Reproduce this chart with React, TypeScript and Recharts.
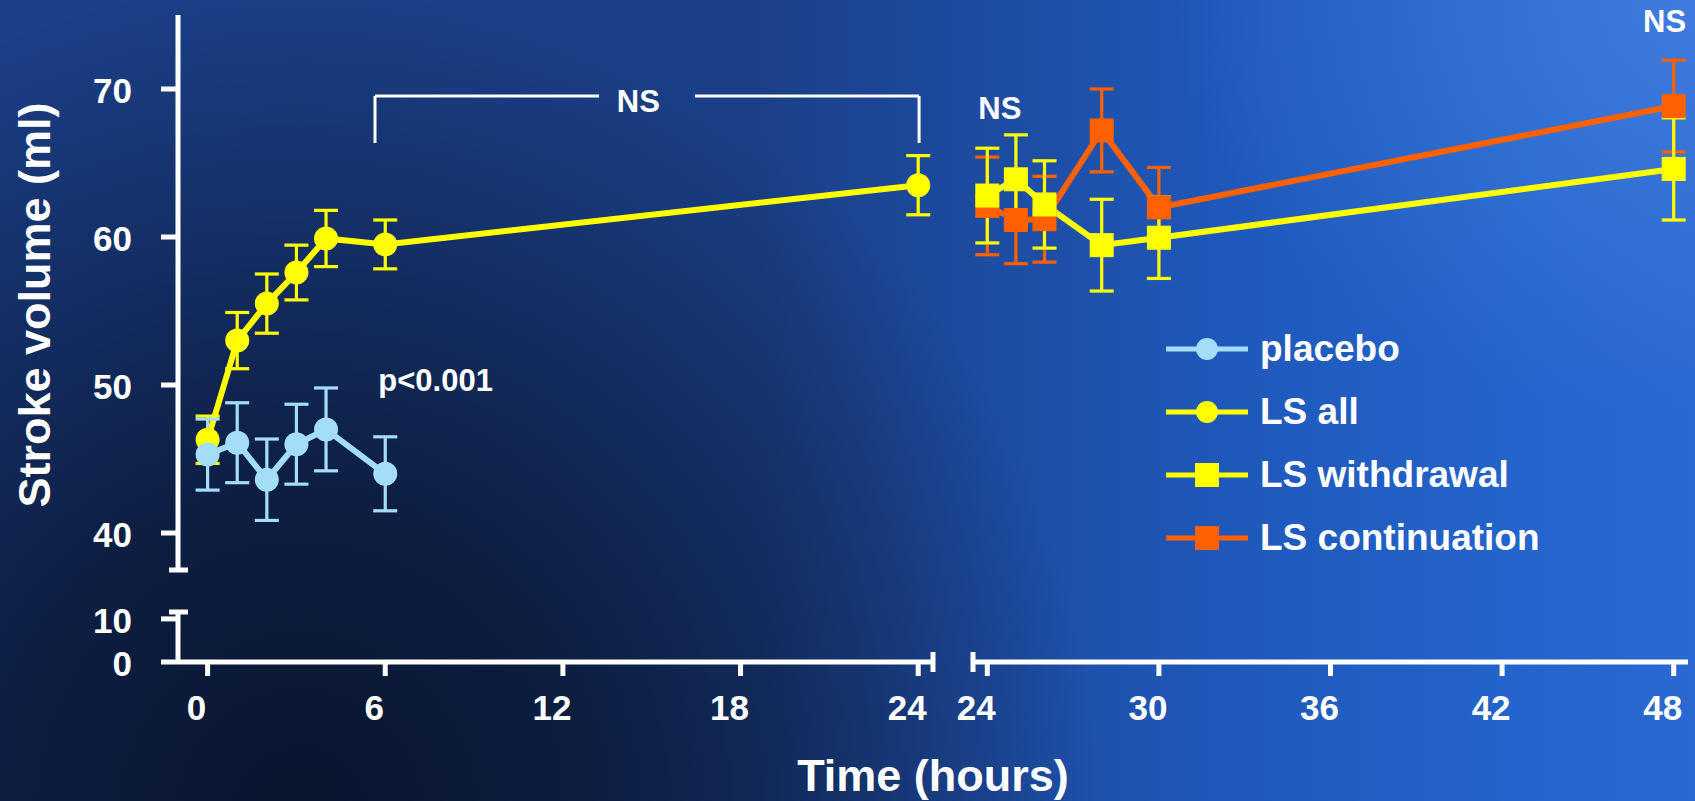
import React from 'react';
import { LineChart, Line, XAxis, YAxis, ErrorBar, ReferenceLine, ReferenceDot, Legend, Label } from 'recharts';

const W = 1695;
const H = 801;
const FONT = '"Liberation Sans", Arial, Helvetica, sans-serif';
const WHITE = '#ffffff';
const YELLOW = '#ffff00';
const SKY = '#a3ddf8';
const ORANGE = '#ff6000';

// ---------- data ----------
const placeboTime = [0, 1, 2, 3, 4, 6];
const placeboMean = [45.3, 46.1, 43.6, 46.0, 47.0, 44.0];
const placeboSem = [2.4, 2.7, 2.75, 2.7, 2.8, 2.5];

const lsAllTime = [0, 1, 2, 3, 4, 6, 24];
const lsAllMean = [46.3, 53.0, 55.5, 57.6, 59.9, 59.5, 63.5];
const lsAllSem = [1.6, 1.9, 2.0, 1.85, 1.9, 1.65, 2.0];

const lateTime = [24, 25, 26, 28, 30, 48];
const withdrawalMean = [62.8, 63.9, 62.2, 59.45, 59.95, 64.6];
const withdrawalSem = [3.2, 3.0, 2.95, 3.1, 2.75, 3.45];
const continuationMean = [62.1, 61.15, 61.2, 67.2, 62.0, 68.85];
const continuationSem = [3.3, 2.95, 2.9, 2.8, 2.7, 3.1];

const leftTicks = [0, 6, 12, 18, 24];
const rightTicks = [24, 30, 36, 42, 48];
const upperTicks = [40, 50, 60, 70];
const lowerTicks = [0, 10];

const seriesNames = ['placebo', 'LS all', 'LS withdrawal', 'LS continuation'];
const seriesColors = [SKY, YELLOW, YELLOW, ORANGE];
const seriesMarkers = ['circle', 'circle', 'square', 'square'];

// annotations (data units)
const leftNotes = [
  { t: 14.55, v: 68.45, text: 'NS' },
  { t: 7.7, v: 49.62, text: 'p<0.001' },
];
const rightNotes = [
  { t: 24.44, v: 67.97, text: 'NS' },
  { t: 47.68, v: 73.85, text: 'NS' },
];
// bracket over 6h..24h
const bracket = { t0: 5.654, t1: 24.03, gap0: 13.22, gap1: 16.46, top: 69.53, bottom: 66.35 };

// ---------- layout ----------
const UPPER_TOP = 15;
const UPPER_BOTTOM = 570;
const LOWER_TOP = 612;
const LOWER_BOTTOM = 662;
const LEFT_X0 = 178;
const LEFT_X1 = 933;
const RIGHT_X0 = 973;
const RIGHT_X1 = 1688;
const YAXIS_W = 130;
const XAXIS_H = 60;

const LEFT_DOMAIN: [number, number] = [-1, 24.5];
const RIGHT_DOMAIN: [number, number] = [23.5, 48.5];
const UPPER_DOMAIN: [number, number] = [37.5, 75];
const LOWER_DOMAIN: [number, number] = [0, 11.6];

const rows = (ts: number[], vs: number[], es: number[]) => ts.map((t, i) => ({ t, v: vs[i], e: es[i] }));
const placeboData = rows(placeboTime, placeboMean, placeboSem);
const lsAllData = rows(lsAllTime, lsAllMean, lsAllSem);
const withdrawalData = rows(lateTime, withdrawalMean, withdrawalSem);
const continuationData = rows(lateTime, continuationMean, continuationSem);

// px offsets -> data units for axis-break caps
const tPerPxLeft = (LEFT_DOMAIN[1] - LEFT_DOMAIN[0]) / (LEFT_X1 - LEFT_X0);
const vPerPxLower = (LOWER_DOMAIN[1] - LOWER_DOMAIN[0]) / (LOWER_BOTTOM - LOWER_TOP);
const CAP_L = 9;
const CAP_R = 10;
const VCAP = 10;

const LINE_W = 6;
const ERR_W = 3.2;

const textStyle = { fill: WHITE, fontFamily: FONT, fontWeight: 'bold' as const };

const xTick = (p: any) => (
  <text x={p.x - 11} y={p.y} dy="0.71em" textAnchor="middle" fontSize={35} {...textStyle}>
    {p.payload.value}
  </text>
);
const yTick = (p: any) => (
  <text x={p.x} y={p.y} dy={14} textAnchor="end" fontSize={35} {...textStyle}>
    {p.payload.value}
  </text>
);

const noteShape = (text: string) => (p: any) => (
  <text x={p.cx} y={p.cy} textAnchor="middle" fontSize={31} {...textStyle}>
    {text}
  </text>
);

const squareDot = (color: string) => (p: any) => (
  <rect key={`sq-${p.index}`} x={p.cx - 12} y={p.cy - 12} width={24} height={24} fill={color} />
);

const legendContent = (props: any) => {
  const items = [...(props.payload || [])].sort(
    (a: any, b: any) => seriesNames.indexOf(a.value) - seriesNames.indexOf(b.value)
  );
  return (
    <div>
      {items.map((it: any) => {
        const idx = seriesNames.indexOf(it.value);
        const color = seriesColors[idx] || it.color;
        const marker = seriesMarkers[idx];
        return (
          <div key={it.value} style={{ display: 'flex', alignItems: 'center', height: 63 }}>
            <svg width={82} height={26} style={{ display: 'block' }}>
              <line x1={0} y1={13} x2={82} y2={13} stroke={color} strokeWidth={5} />
              {marker === 'circle' ? (
                <circle cx={41} cy={13} r={11} fill={color} />
              ) : (
                <rect x={29} y={1} width={24} height={24} fill={color} />
              )}
            </svg>
            <span
              style={{
                marginLeft: 12,
                color: WHITE,
                fontFamily: FONT,
                fontWeight: 'bold',
                fontSize: 37,
                lineHeight: 1,
                whiteSpace: 'nowrap',
              }}
            >
              {it.value}
            </span>
          </div>
        );
      })}
    </div>
  );
};

const axisStroke = { stroke: WHITE, strokeWidth: 5 };
const layerStyle: React.CSSProperties = { position: 'absolute', left: 0, top: 0 };

export default function App() {
  return (
    <div
      style={{
        position: 'absolute',
        left: 0,
        top: 0,
        width: W,
        height: H,
        overflow: 'hidden',
        background:
          'radial-gradient(ellipse 520px 420px at 1695px 0px, rgba(80,140,228,0.55) 0%, rgba(80,140,228,0) 100%),' +
          'radial-gradient(ellipse 800px 840px at 300px 820px, rgba(8,18,40,0.95) 0%, rgba(8,18,40,0.72) 40%, rgba(8,18,40,0) 100%),' +
          'linear-gradient(to right, #1b3f88 0%, #1b4088 45%, #1f58ba 72%, #2464cc 90%, #2a68d2 100%)',
      }}
    >
      {/* upper-left: 0..24 h */}
      <div style={layerStyle}>
        <LineChart
          width={W}
          height={H}
          margin={{ top: UPPER_TOP, right: W - LEFT_X1, bottom: H - UPPER_BOTTOM, left: LEFT_X0 - YAXIS_W }}
        >
          <XAxis type="number" dataKey="t" domain={LEFT_DOMAIN} allowDataOverflow hide />
          <YAxis
            type="number"
            domain={UPPER_DOMAIN}
            ticks={upperTicks}
            interval={0}
            allowDataOverflow
            width={YAXIS_W}
            axisLine={axisStroke}
            tickLine={axisStroke}
            tickSize={17}
            tickMargin={29}
            tick={yTick}
          >
            <Label
              content={() => (
                <text
                  x={50}
                  y={305}
                  transform="rotate(-90 50 305)"
                  textAnchor="middle"
                  fontSize={45}
                  {...textStyle}
                >
                  Stroke volume (ml)
                </text>
              )}
            />
          </YAxis>
          <ReferenceLine
            ifOverflow="visible"
            stroke={WHITE}
            strokeWidth={5}
            segment={[
              { x: LEFT_DOMAIN[0] - CAP_L * tPerPxLeft, y: UPPER_DOMAIN[0] },
              { x: LEFT_DOMAIN[0] + CAP_R * tPerPxLeft, y: UPPER_DOMAIN[0] },
            ]}
          />
          <ReferenceLine ifOverflow="visible" stroke={WHITE} strokeWidth={3}
            segment={[{ x: bracket.t0, y: bracket.bottom }, { x: bracket.t0, y: bracket.top }]} />
          <ReferenceLine ifOverflow="visible" stroke={WHITE} strokeWidth={3}
            segment={[{ x: bracket.t0, y: bracket.top }, { x: bracket.gap0, y: bracket.top }]} />
          <ReferenceLine ifOverflow="visible" stroke={WHITE} strokeWidth={3}
            segment={[{ x: bracket.gap1, y: bracket.top }, { x: bracket.t1, y: bracket.top }]} />
          <ReferenceLine ifOverflow="visible" stroke={WHITE} strokeWidth={3}
            segment={[{ x: bracket.t1, y: bracket.top }, { x: bracket.t1, y: bracket.bottom }]} />
          <Line
            name={seriesNames[1]}
            data={lsAllData}
            dataKey="v"
            type="linear"
            stroke={YELLOW}
            strokeWidth={LINE_W}
            dot={{ r: 12, fill: YELLOW, stroke: 'none' }}
            activeDot={false}
            isAnimationActive={false}
          >
            <ErrorBar dataKey="e" width={12} strokeWidth={ERR_W} stroke={YELLOW} direction="y" isAnimationActive={false} />
          </Line>
          <Line
            name={seriesNames[0]}
            data={placeboData}
            dataKey="v"
            type="linear"
            stroke={SKY}
            strokeWidth={LINE_W}
            dot={{ r: 12, fill: SKY, stroke: 'none' }}
            activeDot={false}
            isAnimationActive={false}
          >
            <ErrorBar dataKey="e" width={12} strokeWidth={ERR_W} stroke={SKY} direction="y" isAnimationActive={false} />
          </Line>
          {leftNotes.map((n) => (
            <ReferenceDot key={n.text} x={n.t} y={n.v} r={0} ifOverflow="visible" shape={noteShape(n.text)} />
          ))}
        </LineChart>
      </div>

      {/* upper-right: 24..48 h */}
      <div style={layerStyle}>
        <LineChart
          width={W}
          height={H}
          margin={{ top: UPPER_TOP, right: W - RIGHT_X1, bottom: H - UPPER_BOTTOM, left: RIGHT_X0 }}
        >
          <XAxis type="number" dataKey="t" domain={RIGHT_DOMAIN} allowDataOverflow hide />
          <YAxis type="number" domain={UPPER_DOMAIN} allowDataOverflow hide />
          <Line name={seriesNames[0]} data={[]} dataKey="v" stroke={SKY} isAnimationActive={false} />
          <Line name={seriesNames[1]} data={[]} dataKey="v" stroke={YELLOW} isAnimationActive={false} />
          <Line
            name={seriesNames[3]}
            data={continuationData}
            dataKey="v"
            type="linear"
            stroke={ORANGE}
            strokeWidth={LINE_W}
            dot={squareDot(ORANGE)}
            activeDot={false}
            isAnimationActive={false}
          >
            <ErrorBar dataKey="e" width={12} strokeWidth={ERR_W} stroke={ORANGE} direction="y" isAnimationActive={false} />
          </Line>
          <Line
            name={seriesNames[2]}
            data={withdrawalData}
            dataKey="v"
            type="linear"
            stroke={YELLOW}
            strokeWidth={LINE_W}
            dot={squareDot(YELLOW)}
            activeDot={false}
            isAnimationActive={false}
          >
            <ErrorBar dataKey="e" width={12} strokeWidth={ERR_W} stroke={YELLOW} direction="y" isAnimationActive={false} />
          </Line>
          {rightNotes.map((n, i) => (
            <ReferenceDot key={`r${i}`} x={n.t} y={n.v} r={0} ifOverflow="visible" shape={noteShape(n.text)} />
          ))}
          <Legend
            layout="vertical"
            align="center"
            verticalAlign="middle"
            content={legendContent}
            wrapperStyle={{ left: 1166, top: 317, width: 'auto', height: 'auto' }}
          />
        </LineChart>
      </div>

      {/* lower-left: y 0..10 and x-axis 0..24 */}
      <div style={layerStyle}>
        <LineChart
          width={W}
          height={H}
          data={lsAllData}
          margin={{ top: LOWER_TOP, right: W - LEFT_X1, bottom: H - LOWER_BOTTOM - XAXIS_H, left: LEFT_X0 - YAXIS_W }}
        >
          <XAxis
            type="number"
            dataKey="t"
            domain={LEFT_DOMAIN}
            ticks={leftTicks}
            interval={0}
            allowDataOverflow
            height={XAXIS_H}
            axisLine={axisStroke}
            tickLine={axisStroke}
            tickSize={14}
            tickMargin={19}
            tick={xTick}
          >
            <Label
              content={(p: any) => (
                <text
                  x={p.viewBox ? p.viewBox.x + p.viewBox.width : LEFT_X1}
                  y={791}
                  textAnchor="middle"
                  fontSize={45}
                  {...textStyle}
                >
                  Time (hours)
                </text>
              )}
            />
          </XAxis>
          <YAxis
            type="number"
            domain={LOWER_DOMAIN}
            ticks={lowerTicks}
            interval={0}
            allowDataOverflow
            width={YAXIS_W}
            axisLine={axisStroke}
            tickLine={axisStroke}
            tickSize={17}
            tickMargin={29}
            tick={yTick}
          />
          <ReferenceLine
            ifOverflow="visible"
            stroke={WHITE}
            strokeWidth={5}
            segment={[
              { x: LEFT_DOMAIN[0] - CAP_L * tPerPxLeft, y: LOWER_DOMAIN[1] },
              { x: LEFT_DOMAIN[0] + CAP_R * tPerPxLeft, y: LOWER_DOMAIN[1] },
            ]}
          />
          <ReferenceLine
            ifOverflow="visible"
            stroke={WHITE}
            strokeWidth={5}
            segment={[
              { x: LEFT_DOMAIN[1], y: LOWER_DOMAIN[0] + VCAP * vPerPxLower },
              { x: LEFT_DOMAIN[1], y: LOWER_DOMAIN[0] - VCAP * vPerPxLower },
            ]}
          />
        </LineChart>
      </div>

      {/* lower-right: x-axis 24..48 */}
      <div style={layerStyle}>
        <LineChart
          width={W}
          height={H}
          data={withdrawalData}
          margin={{ top: LOWER_TOP, right: W - RIGHT_X1, bottom: H - LOWER_BOTTOM - XAXIS_H, left: RIGHT_X0 }}
        >
          <XAxis
            type="number"
            dataKey="t"
            domain={RIGHT_DOMAIN}
            ticks={rightTicks}
            interval={0}
            allowDataOverflow
            height={XAXIS_H}
            axisLine={axisStroke}
            tickLine={axisStroke}
            tickSize={14}
            tickMargin={19}
            tick={xTick}
          />
          <YAxis type="number" domain={LOWER_DOMAIN} allowDataOverflow hide />
          <ReferenceLine
            ifOverflow="visible"
            stroke={WHITE}
            strokeWidth={5}
            segment={[
              { x: RIGHT_DOMAIN[0], y: LOWER_DOMAIN[0] + VCAP * vPerPxLower },
              { x: RIGHT_DOMAIN[0], y: LOWER_DOMAIN[0] - VCAP * vPerPxLower },
            ]}
          />
        </LineChart>
      </div>
    </div>
  );
}
